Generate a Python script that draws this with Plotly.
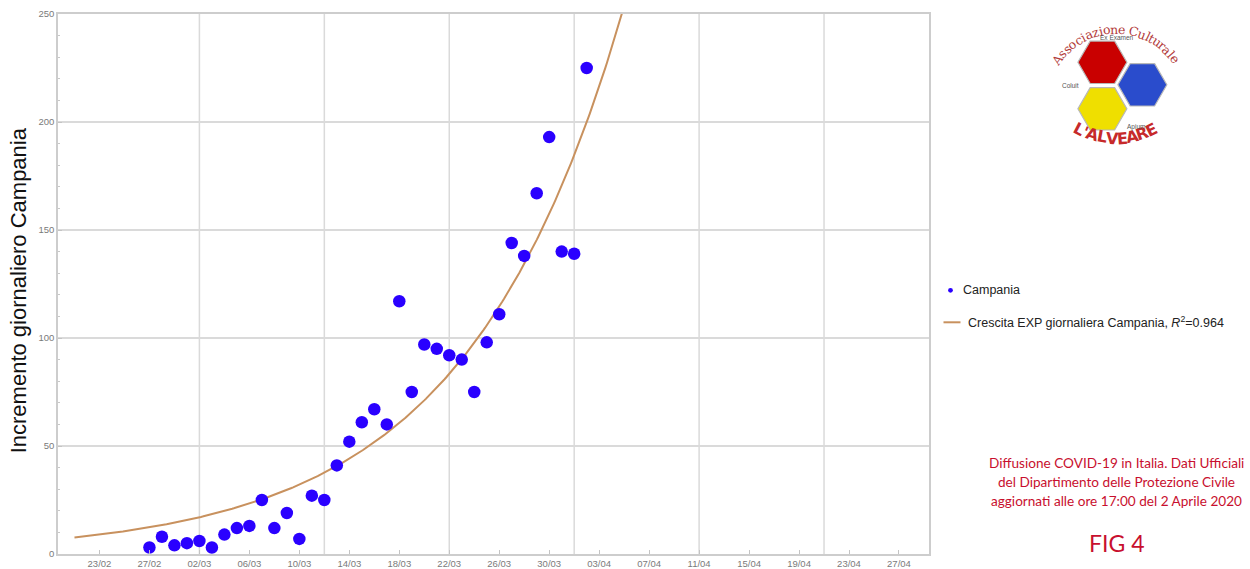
import math
from datetime import datetime, timedelta

import plotly.graph_objects as go

# Daily new cases in Campania (Protezione Civile data)
dates = [
    "2020-02-27", "2020-02-28", "2020-02-29", "2020-03-01", "2020-03-02", "2020-03-03",
    "2020-03-04", "2020-03-05", "2020-03-06", "2020-03-07", "2020-03-08", "2020-03-09",
    "2020-03-10", "2020-03-11", "2020-03-12", "2020-03-13", "2020-03-14", "2020-03-15",
    "2020-03-16", "2020-03-17", "2020-03-18", "2020-03-19", "2020-03-20", "2020-03-21",
    "2020-03-22", "2020-03-23", "2020-03-24", "2020-03-25", "2020-03-26", "2020-03-27",
    "2020-03-28", "2020-03-29", "2020-03-30", "2020-03-31", "2020-04-01", "2020-04-02",
]
incremento = [
    3, 8, 4, 5, 6, 3,
    9, 12, 13, 25, 12, 19,
    7, 27, 25, 41, 52, 61,
    67, 60, 117, 75, 97, 95,
    92, 90, 75, 98, 111, 144,
    138, 167, 193, 140, 139, 225,
]

# Exponential fit y = a * exp(b * t), t in days from the reference date
fit_a = 17.0
fit_b = 0.0795
fit_ref = "2020-03-02"
fit_start = "2020-02-21"
fit_end = "2020-04-07"
fit_r2 = 0.964

tick_dates = [
    "2020-02-23", "2020-02-27", "2020-03-02", "2020-03-06", "2020-03-10", "2020-03-14",
    "2020-03-18", "2020-03-22", "2020-03-26", "2020-03-30", "2020-04-03", "2020-04-07",
    "2020-04-11", "2020-04-15", "2020-04-19", "2020-04-23", "2020-04-27",
]
tick_labels = [
    "23/02", "27/02", "02/03", "06/03", "10/03", "14/03", "18/03", "22/03", "26/03",
    "30/03", "03/04", "07/04", "11/04", "15/04", "19/04", "23/04", "27/04",
]
grid_dates = ["2020-03-02", "2020-03-12", "2020-03-22", "2020-04-01", "2020-04-11", "2020-04-21"]
y_ticks = [0, 50, 100, 150, 200, 250]

POINT_COLOR = "#2a00ff"
FIT_COLOR = "#c8915e"
RED_TEXT = "#c80f2e"
FRAME = "#cdcdcd"
GRID = "#dadada"
TICK_FONT = dict(family="Liberation Sans, Arial, sans-serif", size=9.5, color="#7a7a7a")

# sample the fitted curve
ref = datetime.fromisoformat(fit_ref)
start = datetime.fromisoformat(fit_start)
end = datetime.fromisoformat(fit_end)
curve_x, curve_y = [], []
d = start
while d <= end:
    t = (d - ref).total_seconds() / 86400.0
    curve_x.append(d)
    curve_y.append(fit_a * math.exp(fit_b * t))
    d += timedelta(hours=3)

fig = go.Figure()
fig.add_trace(go.Scatter(
    x=curve_x, y=curve_y, mode="lines",
    line=dict(color=FIT_COLOR, width=2),
    hoverinfo="skip", showlegend=False,
))
fig.add_trace(go.Scatter(
    x=dates, y=incremento, mode="markers",
    marker=dict(color=POINT_COLOR, size=12.5, line=dict(width=0)),
    showlegend=False,
))

# plot area in page pixels
L, R, T, B = 58.0, 929.5, 13.7, 553.7


def px(x):
    return (x - L) / (R - L)


def py(y):
    return (B - y) / (B - T)


shapes = []
for g in grid_dates:
    shapes.append(dict(type="line", xref="x", yref="paper", x0=g, x1=g, y0=0, y1=1,
                       line=dict(color=GRID, width=1.5), layer="below"))

annotations = []

# y-axis title
annotations.append(dict(
    x=px(18), y=py(290), xref="paper", yref="paper", text="Incremento giornaliero Campania",
    textangle=-90, showarrow=False, xanchor="center", yanchor="middle",
    font=dict(family="Liberation Sans, Arial, sans-serif", size=22, color="#111111"),
))

# legend
shapes.append(dict(type="circle", xref="paper", yref="paper",
                   x0=px(948.6), x1=px(953.4), y0=py(292.4), y1=py(287.6),
                   fillcolor=POINT_COLOR, line=dict(width=0)))
annotations.append(dict(
    x=px(962), y=py(290), xref="paper", yref="paper", text="Campania",
    showarrow=False, xanchor="left", yanchor="middle",
    font=dict(family="Liberation Sans, Arial, sans-serif", size=12.5, color="#222222"),
))
shapes.append(dict(type="line", xref="paper", yref="paper",
                   x0=px(944), x1=px(961), y0=py(322), y1=py(322),
                   line=dict(color=FIT_COLOR, width=2)))
annotations.append(dict(
    x=px(967), y=py(322), xref="paper", yref="paper",
    text=f"Crescita EXP giornaliera Campania, <i>R</i><sup>2</sup>={fit_r2}",
    showarrow=False, xanchor="left", yanchor="middle",
    font=dict(family="Liberation Sans, Arial, sans-serif", size=12.5, color="#222222"),
))

# source note and figure label
note_lines = [
    "Diffusione COVID-19 in Italia. Dati Ufficiali",
    "del Dipartimento delle Protezione Civile",
    "aggiornati alle ore 17:00 del 2 Aprile 2020",
]
for i, line in enumerate(note_lines):
    annotations.append(dict(
        x=px(1117), y=py(463 + 19 * i), xref="paper", yref="paper", text=line,
        showarrow=False, xanchor="center", yanchor="middle",
        font=dict(family="Lato, Open Sans, sans-serif", size=13.6, color=RED_TEXT),
    ))
annotations.append(dict(
    x=px(1117), y=py(543), xref="paper", yref="paper", text="FIG 4",
    showarrow=False, xanchor="center", yanchor="middle",
    font=dict(family="Lato, Open Sans, sans-serif", size=23, color=RED_TEXT),
))


# association logo: three hexagons with arched lettering
def hex_path(cx, cy, r):
    pts = []
    for k in range(6):
        a = math.radians(60 * k)
        pts.append((px(cx + r * math.cos(a)), py(cy - r * math.sin(a))))
    return "M " + " L ".join(f"{x:.5f},{y:.5f}" for x, y in pts) + " Z"


for cx, cy, col in [(1103, 62, "#c90000"), (1143, 84.5, "#2a4ccc"), (1103, 108.5, "#efdf00")]:
    shapes.append(dict(type="path", xref="paper", yref="paper", path=hex_path(cx, cy, 24.5),
                       fillcolor=col, line=dict(color="#b8b8b8", width=1.2)))

CHAR_W = {"i": 0.3, "l": 0.3, "'": 0.3, " ": 0.3, "t": 0.35, "r": 0.4, "z": 0.5,
          "s": 0.48, "A": 0.6, "C": 0.68, "L": 0.6, "V": 0.7, "E": 0.62, "R": 0.68}


def arc_text(text, cx, cy, r, a_start, a_end, font, top=True, bold=False):
    widths = [CHAR_W.get(ch, 0.56) for ch in text]
    total = sum(widths)
    pos = 0.0
    for ch, w in zip(text, widths):
        frac = (pos + w / 2) / total
        pos += w
        if ch == " ":
            continue
        a = a_start + (a_end - a_start) * frac
        ar = math.radians(a)
        x = cx + r * math.cos(ar)
        y = cy - r * math.sin(ar)
        ang = (90 - a) if top else (270 - a)
        annotations.append(dict(
            x=px(x), y=py(y), xref="paper", yref="paper",
            text=f"<b>{ch}</b>" if bold else ch, textangle=ang,
            showarrow=False, xanchor="center", yanchor="middle", font=font,
        ))


arc_text("Associazione Culturale", 1117, 101, 72, 148, 33,
         dict(family="DejaVu Serif, serif", size=12.5, color="#b23a3a"), top=True)
arc_text("L'ALVEARE", 1117, 58, 80, 239, 300,
         dict(family="DejaVu Sans, sans-serif", size=16, color="#c62a2a"), top=False, bold=True)

small_font = dict(family="Liberation Sans, Arial, sans-serif", size=6.5, color="#555555")
for txt, x, y in [("Ex Examen", 1118, 37), ("Coluit", 1071, 85), ("Apium", 1137, 127)]:
    annotations.append(dict(x=px(x), y=py(y), xref="paper", yref="paper", text=txt,
                            showarrow=False, xanchor="center", yanchor="middle", font=small_font))

fig.update_layout(
    width=1250, height=569,
    margin=dict(l=L, r=1250 - R, t=T, b=569 - B, pad=0),
    paper_bgcolor="white", plot_bgcolor="white",
    showlegend=False,
    shapes=shapes,
    annotations=annotations,
    xaxis=dict(
        type="date",
        range=["2020-02-19 16:20", "2020-04-29 09:40"],
        tickmode="array", tickvals=tick_dates, ticktext=tick_labels,
        ticks="inside", ticklen=4, tickwidth=1, tickcolor="#c4c4c4",
        tickfont=TICK_FONT,
        showgrid=False, zeroline=False,
        showline=True, linecolor=FRAME, linewidth=1.5, mirror=True,
        automargin=False,
    ),
    yaxis=dict(
        range=[0, 250],
        tickmode="array", tickvals=y_ticks,
        ticks="inside", ticklen=4, tickwidth=1, tickcolor="#c4c4c4",
        tickfont=TICK_FONT,
        minor=dict(dtick=10, ticks="inside", ticklen=2, tickcolor="#c8c8c8", showgrid=False),
        showgrid=True, gridcolor=GRID, gridwidth=1.5, zeroline=False,
        showline=True, linecolor=FRAME, linewidth=1.5, mirror=True,
        automargin=False,
    ),
)

fig.write_html("out.html")
